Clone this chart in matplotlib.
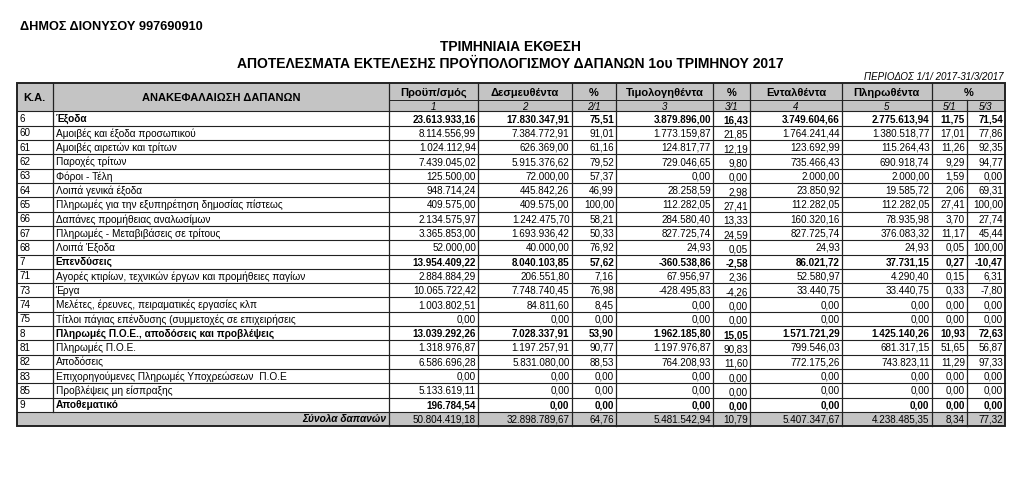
import matplotlib
matplotlib.use("Agg")
import matplotlib.pyplot as plt
from matplotlib.patches import Rectangle

plt.rcParams["font.family"] = ["Liberation Sans", "DejaVu Sans"]

# ========== DATA ==========
codes = ["6", "60", "61", "62", "63", "64", "65", "66", "67", "68", "7",
         "71", "73", "74", "75", "8", "81", "82", "83", "85", "9"]
descriptions = [
    "Έξοδα",
    "Αμοιβές και έξοδα προσωπικού",
    "Αμοιβές αιρετών και τρίτων",
    "Παροχές τρίτων",
    "Φόροι - Τέλη",
    "Λοιπά γενικά έξοδα",
    "Πληρωμές για την εξυπηρέτηση δημοσίας πίστεως",
    "Δαπάνες προμήθειας αναλωσίμων",
    "Πληρωμές - Μεταβιβάσεις σε τρίτους",
    "Λοιπά Έξοδα",
    "Επενδύσεις",
    "Αγορές κτιρίων, τεχνικών έργων και προμήθειες παγίων",
    "Έργα",
    "Μελέτες, έρευνες, πειραματικές εργασίες κλπ",
    "Τίτλοι πάγιας επένδυσης (συμμετοχές σε επιχειρήσεις",
    "Πληρωμές Π.Ο.Ε., αποδόσεις και προβλέψεις",
    "Πληρωμές Π.Ο.Ε.",
    "Αποδόσεις",
    "Επιχορηγούμενες Πληρωμές Υποχρεώσεων  Π.Ο.Ε",
    "Προβλέψεις μη είσπραξης",
    "Αποθεματικό",
]
bold_codes = ["6", "7", "8", "9"]

budget = [23613933.16, 8114556.99, 1024112.94, 7439045.02, 125500.00, 948714.24,
          409575.00, 2134575.97, 3365853.00, 52000.00, 13954409.22, 2884884.29,
          10065722.42, 1003802.51, 0.00, 13039292.26, 1318976.87, 6586696.28,
          0.00, 5133619.11, 196784.54]
committed = [17830347.91, 7384772.91, 626369.00, 5915376.62, 72000.00, 445842.26,
             409575.00, 1242475.70, 1693936.42, 40000.00, 8040103.85, 206551.80,
             7748740.45, 84811.60, 0.00, 7028337.91, 1197257.91, 5831080.00,
             0.00, 0.00, 0.00]
pct_2_1 = [75.51, 91.01, 61.16, 79.52, 57.37, 46.99, 100.00, 58.21, 50.33, 76.92,
           57.62, 7.16, 76.98, 8.45, 0.00, 53.90, 90.77, 88.53, 0.00, 0.00, 0.00]
invoiced = [3879896.00, 1773159.87, 124817.77, 729046.65, 0.00, 28258.59,
            112282.05, 284580.40, 827725.74, 24.93, -360538.86, 67956.97,
            -428495.83, 0.00, 0.00, 1962185.80, 1197976.87, 764208.93,
            0.00, 0.00, 0.00]
pct_3_1 = [16.43, 21.85, 12.19, 9.80, 0.00, 2.98, 27.41, 13.33, 24.59, 0.05,
           -2.58, 2.36, -4.26, 0.00, 0.00, 15.05, 90.83, 11.60, 0.00, 0.00, 0.00]
ordered = [3749604.66, 1764241.44, 123692.99, 735466.43, 2000.00, 23850.92,
           112282.05, 160320.16, 827725.74, 24.93, 86021.72, 52580.97,
           33440.75, 0.00, 0.00, 1571721.29, 799546.03, 772175.26,
           0.00, 0.00, 0.00]
paid = [2775613.94, 1380518.77, 115264.43, 690918.74, 2000.00, 19585.72,
        112282.05, 78935.98, 376083.32, 24.93, 37731.15, 4290.40,
        33440.75, 0.00, 0.00, 1425140.26, 681317.15, 743823.11,
        0.00, 0.00, 0.00]
pct_5_1 = [11.75, 17.01, 11.26, 9.29, 1.59, 2.06, 27.41, 3.70, 11.17, 0.05,
           0.27, 0.15, 0.33, 0.00, 0.00, 10.93, 51.65, 11.29, 0.00, 0.00, 0.00]
pct_5_3 = [71.54, 77.86, 92.35, 94.77, 0.00, 69.31, 100.00, 27.74, 45.44, 100.00,
           -10.47, 6.31, -7.80, 0.00, 0.00, 72.63, 56.87, 97.33, 0.00, 0.00, 0.00]

totals = [50804419.18, 32898789.67, 64.76, 5481542.94, 10.79,
          5407347.67, 4238485.35, 8.34, 77.32]

header_top = ["Προϋπ/σμός", "Δεσμευθέντα", "%", "Τιμολογηθέντα", "%",
              "Ενταλθέντα", "Πληρωθέντα"]
header_sub = ["1", "2", "2/1", "3", "3/1", "4", "5", "5/1", "5/3"]


def fmt(v):
    # greek number format: 1.234.567,89
    s = f"{v:,.2f}"
    return s.replace(",", "X").replace(".", ",").replace("X", ".")


# ========== LAYOUT (pixel coords) ==========
W, H = 1024, 486
edges = [16.5, 52.5, 389, 478, 571.5, 616, 713, 750, 842, 931.5, 967, 1005]
head_y0, head_mid, body_y0 = 83.5, 100.5, 111.5
row_h = 14.3
gray = "#c4c4c4"
line_c = "#222222"
fs_body = 7.1

fig = plt.figure(figsize=(W / 100, H / 100), dpi=100)
ax = fig.add_axes([0, 0, 1, 1])
ax.set_xlim(0, W)
ax.set_ylim(H, 0)
ax.axis("off")

# titles
ax.text(20, 27, "ΔΗΜΟΣ ΔΙΟΝΥΣΟΥ 997690910", fontsize=9.2, fontweight="bold",
        va="center", ha="left")
ax.text(510, 47, "ΤΡΙΜΗΝΙΑΙΑ ΕΚΘΕΣΗ", fontsize=10, fontweight="bold",
        va="center", ha="center")
ax.text(510, 64, "ΑΠΟΤΕΛΕΣΜΑΤΑ ΕΚΤΕΛΕΣΗΣ ΠΡΟΫΠΟΛΟΓΙΣΜΟΥ ΔΑΠΑΝΩΝ 1ου ΤΡΙΜΗΝΟΥ 2017",
        fontsize=10, fontweight="bold", va="center", ha="center")
ax.text(1003, 77, "ΠΕΡΙΟΔΟΣ 1/1/ 2017-31/3/2017", fontsize=7, style="italic",
        va="center", ha="right")

n = len(codes)
body_y1 = body_y0 + (n + 1) * row_h

# header background
ax.add_patch(Rectangle((edges[0], head_y0), edges[-1] - edges[0], body_y0 - head_y0,
                       facecolor=gray, edgecolor="none"))
# total row background
ax.add_patch(Rectangle((edges[0], body_y0 + n * row_h), edges[-1] - edges[0], row_h,
                       facecolor=gray, edgecolor="none"))

# header texts
ax.text((edges[0] + edges[1]) / 2, (head_y0 + body_y0) / 2, "Κ.Α.", fontsize=8,
        fontweight="bold", ha="center", va="center")
ax.text((edges[1] + edges[2]) / 2, (head_y0 + body_y0) / 2, "ΑΝΑΚΕΦΑΛΑΙΩΣΗ ΔΑΠΑΝΩΝ",
        fontsize=8, fontweight="bold", ha="center", va="center")
for i, lab in enumerate(header_top):
    x0, x1 = edges[2 + i], edges[3 + i]
    ax.text((x0 + x1) / 2, (head_y0 + head_mid) / 2 + 0.5, lab, fontsize=8,
            fontweight="bold", ha="center", va="center")
ax.text((edges[9] + edges[11]) / 2, (head_y0 + head_mid) / 2 + 0.5, "%", fontsize=8,
        fontweight="bold", ha="center", va="center")
for i, lab in enumerate(header_sub):
    x0, x1 = edges[2 + i], edges[3 + i]
    ax.text((x0 + x1) / 2, (head_mid + body_y0) / 2 + 0.5, lab, fontsize=7,
            style="italic", ha="center", va="center")

# body rows
columns = [budget, committed, pct_2_1, invoiced, pct_3_1, ordered, paid, pct_5_1, pct_5_3]
for r in range(n):
    yc = body_y0 + (r + 0.5) * row_h + 0.5
    fw = "bold" if codes[r] in bold_codes else "normal"
    ax.text(edges[0] + 3, yc, codes[r], fontsize=fs_body, ha="left", va="center")
    ax.text(edges[1] + 3, yc, descriptions[r], fontsize=fs_body + 0.2, fontweight=fw,
            ha="left", va="center")
    for c, col in enumerate(columns):
        dy = 1.5 if c == 4 else 0
        ax.text(edges[3 + c] - 2, yc + dy, fmt(col[r]), fontsize=fs_body, fontweight=fw,
                ha="right", va="center")

# total row
yc = body_y0 + (n + 0.5) * row_h + 0.5
ax.text(edges[2] - 3, yc, "Σύνολα δαπανών", fontsize=7.3, fontweight="bold",
        style="italic", ha="right", va="center")
for c, v in enumerate(totals):
    ax.text(edges[3 + c] - 2, yc, fmt(v), fontsize=fs_body, ha="right", va="center")

# grid lines
for r in range(n + 1):
    y = body_y0 + r * row_h
    ax.plot([edges[0], edges[-1]], [y, y], color=line_c, lw=0.8)
ax.plot([edges[2], edges[-1]], [head_mid, head_mid], color=line_c, lw=0.7)
for i, x in enumerate(edges[1:-1], start=1):
    if i == 1:
        ax.plot([x, x], [head_y0, body_y0 + n * row_h], color=line_c, lw=0.9)
    elif i == 10:
        ax.plot([x, x], [head_mid, body_y1], color=line_c, lw=0.9)
    else:
        ax.plot([x, x], [head_y0, body_y1], color=line_c, lw=0.9)
ax.add_patch(Rectangle((edges[0], head_y0), edges[-1] - edges[0], body_y1 - head_y0,
                       facecolor="none", edgecolor=line_c, lw=1.4))

fig.savefig("out.png", dpi=100)
